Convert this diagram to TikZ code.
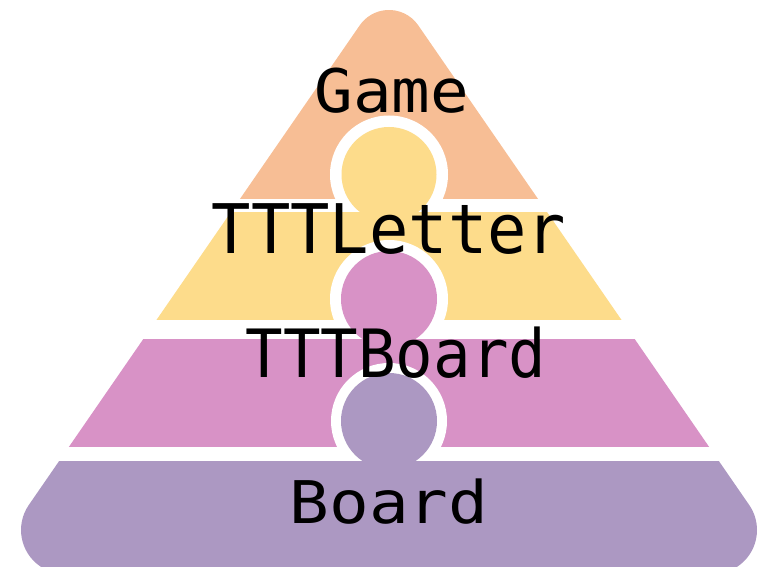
\documentclass[tikz,border=0pt]{standalone}
\usepackage{fontspec}
\newfontfamily\labelfont{DejaVu Sans Mono}
\definecolor{gamecol}{HTML}{F7BE95}
\definecolor{lettercol}{HTML}{FDDC8B}
\definecolor{tboardcol}{HTML}{D892C6}
\definecolor{boardcol}{HTML}{AC98C2}
\newcommand\tripath{(418.2,540.7) arc[start angle=34.6,end angle=145.4,radius=35.5] -- (28.8,61.0) arc[start angle=145.4,end angle=270,radius=44] -- (713,-8) arc[start angle=-90,end angle=34.6,radius=44] -- cycle}
\tikzset{
  ring/.style={fill=white},
  lbl/.style={font=\labelfont\fontsize{60}{60}\selectfont, anchor=base, inner sep=0pt, text=black}
}
\begin{document}
\begin{tikzpicture}[x=1pt,y=1pt]
\useasboundingbox (0,0) rectangle (763,566);
\clip (0,0) rectangle (763,566);
% Game band
\begin{scope}\clip (0,367) rectangle (763,600); \fill[gamecol] \tripath; \end{scope}
\fill[ring] (389,391.5) circle[radius=59];
\fill[lettercol] (389,391.5) circle[radius=47.5];
% TTTLetter band
\begin{scope}\clip (0,247) rectangle (763,353); \fill[lettercol] \tripath; \end{scope}
\fill[ring] (389,267) circle[radius=59];
\fill[tboardcol] (389,267) circle[radius=48];
% TTTBoard band
\begin{scope}\clip (0,120) rectangle (763,227); \fill[tboardcol] \tripath; \end{scope}
\fill[ring] (389,145) circle[radius=58];
\fill[boardcol] (389,145) circle[radius=48];
% Board band
\begin{scope}\clip (0,-20) rectangle (763,105); \fill[boardcol] \tripath; \end{scope}
% labels
\node[lbl] (game) at (392,453) {\scalebox{1.07}[1.0]{Game}};
\node[lbl] (letter) at (389,312.5) {\scalebox{1.09}[1.14]{TTTLetter}};
\node[lbl] (tttboard) at (396,189) {\scalebox{1.04}[1.11]{TTTBoard}};
\node[lbl] (board) at (389,43) {\scalebox{1.10}[0.98]{Board}};
\end{tikzpicture}
\end{document}
